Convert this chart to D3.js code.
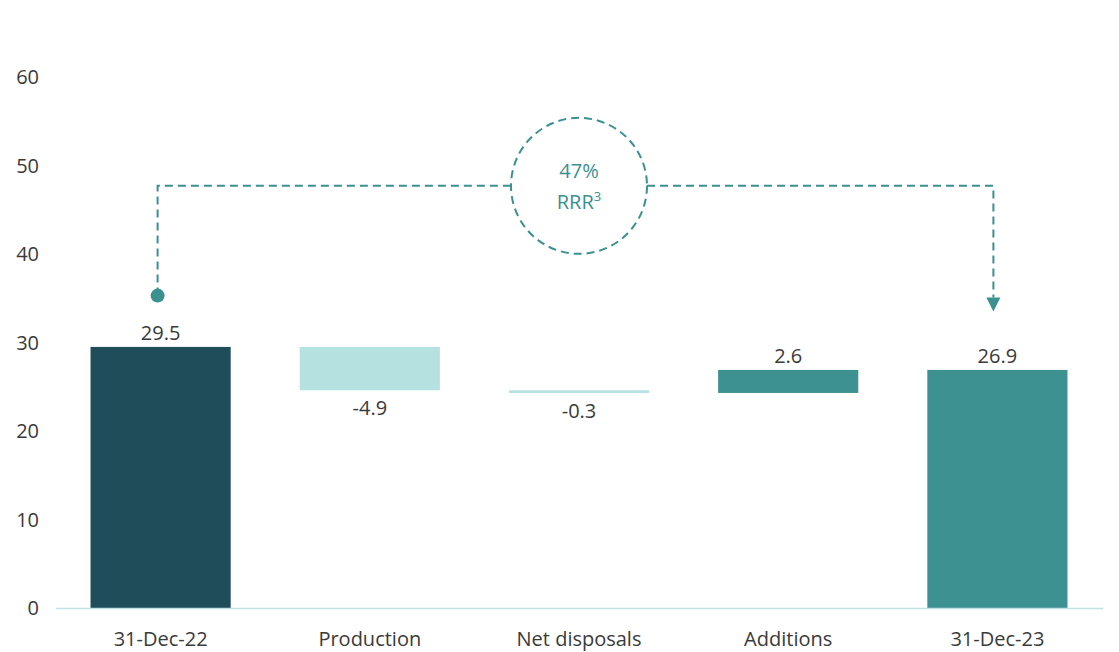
<!DOCTYPE html>
<html>
<head>
<meta charset="utf-8">
<script src="https://cdn.jsdelivr.net/npm/d3@7"></script>
<style>
  html, body { margin: 0; padding: 0; background: #ffffff; }
  svg text { font-family: "Open Sans", "Noto Sans", sans-serif; }
</style>
</head>
<body>
<svg id="chart" width="1119" height="652"></svg>
<script>
// Reserves bridge, 31-Dec-22 to 31-Dec-23
const categories = ["31-Dec-22", "Production", "Net disposals", "Additions", "31-Dec-23"];
const values = [29.5, -4.9, -0.3, 2.6, 26.9];
const kinds = ["total", "delta", "delta", "delta", "total"];
const yTicks = [0, 10, 20, 30, 40, 50, 60];
const rrrLabel = "47%";
const rrrText = "RRR";
const rrrNote = "3";
// Annotation levels (in axis units): start dot, connector height, arrow tip
const annoLevels = { dot: 35.3, top: 47.7, arrowTip: 33.5 };

const colors = {
  startTotal: "#1f4d5a",
  endTotal: "#3d9190",
  negative: "#b5e1e0",
  positive: "#3d9190",
  text: "#3a3a3a",
  axis: "#bfe3e3",
  anno: "#3a9190"
};

const FS = 20;
const svg = d3.select("#chart");
const x = d3.scaleBand().domain(categories).range([56, 1102]).paddingInner(0.33).paddingOuter(0.165);
const y = d3.scaleLinear().domain([0, 60]).range([608, 77]);

// Build waterfall segments
let running = 0;
const bars = categories.map((c, i) => {
  const v = values[i];
  let y0, y1;
  if (kinds[i] === "total") { y0 = 0; y1 = v; running = v; }
  else { y0 = running; y1 = running + v; running = y1; }
  let fill;
  if (kinds[i] === "total") fill = i === 0 ? colors.startTotal : colors.endTotal;
  else fill = v < 0 ? colors.negative : colors.positive;
  return { c, v, y0, y1, fill, kind: kinds[i] };
});

// Y axis labels
svg.append("g").selectAll("text").data(yTicks).join("text")
  .attr("x", 39).attr("y", d => y(d)).attr("dy", "0.35em")
  .attr("text-anchor", "end").attr("font-size", FS).attr("fill", colors.text)
  .text(d => d);

// Bars
svg.append("g").selectAll("rect").data(bars).join("rect")
  .attr("x", d => x(d.c))
  .attr("width", x.bandwidth())
  .attr("y", d => y(Math.max(d.y0, d.y1)))
  .attr("height", d => Math.max(1.5, Math.abs(y(d.y0) - y(d.y1))))
  .attr("fill", d => d.fill);

// Baseline
svg.append("line")
  .attr("x1", 56).attr("x2", 1103).attr("y1", y(0) + 0.5).attr("y2", y(0) + 0.5)
  .attr("stroke", colors.axis).attr("stroke-width", 1.5);

// Value labels
svg.append("g").selectAll("text").data(bars).join("text")
  .attr("x", d => x(d.c) + x.bandwidth() / 2)
  .attr("y", d => d.v >= 0 ? y(Math.max(d.y0, d.y1)) - 7 : y(Math.min(d.y0, d.y1)) + 25)
  .attr("text-anchor", "middle").attr("font-size", FS).attr("fill", colors.text)
  .text(d => d.v.toFixed(1));

// Category labels
svg.append("g").selectAll("text").data(categories).join("text")
  .attr("x", d => x(d) + x.bandwidth() / 2)
  .attr("y", 646)
  .attr("text-anchor", "middle").attr("font-size", FS).attr("fill", colors.text)
  .text(d => d);

// RRR connector annotation
const xStart = x(categories[0]) + x.bandwidth() / 2 - 3;
const xEnd = x(categories[4]) + x.bandwidth() / 2 - 4;
const cx = (x(categories[2]) + x.bandwidth() / 2);
const cy = y(annoLevels.top);
const r = 68;
const anno = svg.append("g").attr("stroke", colors.anno).attr("fill", "none")
  .attr("stroke-width", 2).attr("stroke-dasharray", "8,5");

anno.append("path").attr("d", `M${xStart},${y(annoLevels.dot)} V${cy} H${cx - r}`);
anno.append("path").attr("d", `M${cx + r},${cy} H${xEnd} V${y(annoLevels.arrowTip) - 14}`);
anno.append("circle").attr("cx", cx).attr("cy", cy).attr("r", r);

svg.append("circle").attr("cx", xStart).attr("cy", y(annoLevels.dot)).attr("r", 7)
  .attr("fill", colors.anno);
svg.append("path")
  .attr("d", `M${xEnd - 7},${y(annoLevels.arrowTip) - 14} L${xEnd + 7},${y(annoLevels.arrowTip) - 14} L${xEnd},${y(annoLevels.arrowTip)} Z`)
  .attr("fill", colors.anno);

svg.append("text").attr("x", cx).attr("y", cy - 8)
  .attr("text-anchor", "middle").attr("font-size", FS).attr("fill", colors.anno)
  .text(rrrLabel);
const t2 = svg.append("text").attr("x", cx).attr("y", cy + 23)
  .attr("text-anchor", "middle").attr("font-size", FS).attr("fill", colors.anno);
t2.append("tspan").text(rrrText);
t2.append("tspan").attr("font-size", 13).attr("dy", -8).text(rrrNote);
</script>
</body>
</html>
